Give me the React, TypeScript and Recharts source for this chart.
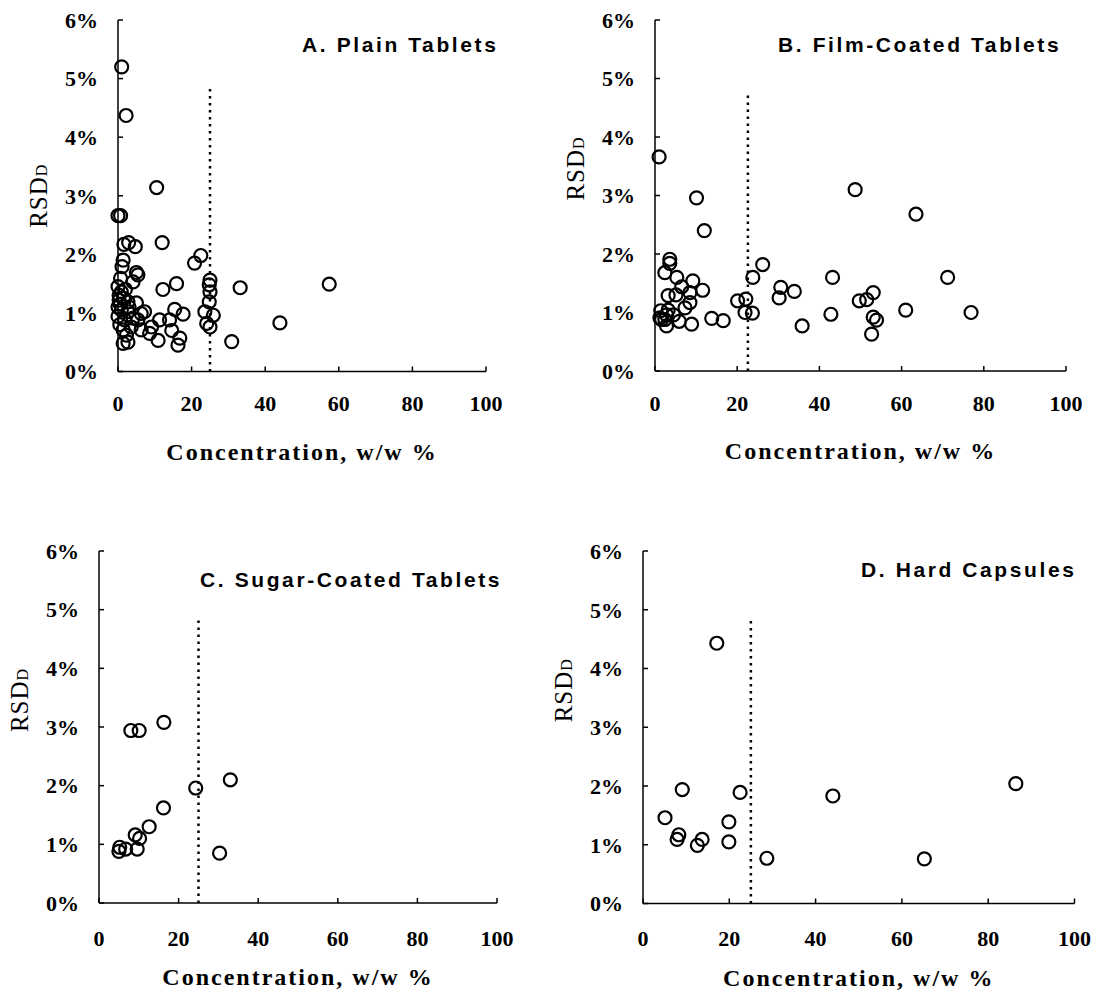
import {
  ReferenceLine,
  Scatter,
  ScatterChart,
  XAxis,
  YAxis,
} from 'recharts';

// A. Plain Tablets
const plainConc = [
  1.0, 2.2, 10.5, 0.0, 0.7, 12.0, 1.6, 2.9, 4.7, 22.5, 20.8, 1.4, 1.1, 5.0, 5.4,
  4.1, 0.7, 0.0, 0.9, 15.9, 12.2, 33.2, 57.4, 25.0, 24.8, 25.0, 24.8, 23.6, 25.9,
  24.1, 25.0, 44.0, 30.9, 2.7, 5.0, 0.9, 2.7, 0.0, 1.8, 4.1, 6.3, 7.2, 5.4, 3.6,
  1.4, 6.3, 9.1, 11.3, 14.0, 15.4, 17.7, 14.6, 8.6, 2.3, 1.4, 2.7, 10.9, 16.8,
  16.3, 0.3, 0.6, 0.3, 0.0, 1.5, 3.0, 0.5, 2.0,
];
const plainRsd = [
  5.2, 4.37, 3.14, 2.66, 2.66, 2.2, 2.17, 2.2, 2.13, 1.98, 1.85, 1.9, 1.79, 1.69,
  1.65, 1.53, 1.59, 1.45, 1.36, 1.5, 1.4, 1.43, 1.49, 1.56, 1.48, 1.36, 1.19,
  1.02, 0.96, 0.82, 0.76, 0.83, 0.51, 1.19, 1.17, 1.05, 1.02, 0.94, 0.88, 0.91,
  0.99, 1.02, 0.88, 0.76, 0.71, 0.71, 0.76, 0.88, 0.88, 1.06, 0.98, 0.7, 0.65,
  0.62, 0.48, 0.5, 0.53, 0.57, 0.45, 1.22, 1.15, 1.3, 1.1, 1.25, 1.1, 0.8, 1.4,
];

// B. Film-Coated Tablets
const filmConc = [
  1.0, 10.1, 12.0, 48.7, 63.5, 3.6, 3.6, 26.2, 23.8, 43.2, 71.2, 2.4, 5.3, 9.2,
  6.5, 11.6, 8.5, 3.2, 5.1, 8.5, 7.3, 30.6, 30.2, 33.9, 20.1, 22.1, 21.9, 23.7,
  53.1, 49.7, 51.5, 53.1, 53.9, 52.7, 42.8, 35.8, 61.0, 76.9, 13.8, 16.6, 8.9,
  5.9, 2.8, 1.6, 1.4, 3.2, 2.8, 4.5, 1.2, 2.4,
];
const filmRsd = [
  3.66, 2.96, 2.4, 3.1, 2.68, 1.91, 1.84, 1.82, 1.6, 1.6, 1.6, 1.68, 1.6, 1.54,
  1.44, 1.38, 1.34, 1.29, 1.3, 1.17, 1.08, 1.43, 1.25, 1.36, 1.2, 1.23, 1.0,
  0.99, 1.34, 1.2, 1.22, 0.92, 0.87, 0.63, 0.97, 0.77, 1.04, 1.0, 0.9, 0.86, 0.8,
  0.85, 0.77, 0.88, 1.03, 1.04, 0.96, 0.96, 0.91, 0.88,
];

// C. Sugar-Coated Tablets
const sugarConc = [8.0, 10.1, 16.3, 33.0, 24.3, 16.2, 12.6, 9.1, 10.2, 5.2, 6.7, 9.6, 5.0, 30.3];
const sugarRsd = [2.94, 2.94, 3.08, 2.1, 1.96, 1.62, 1.3, 1.16, 1.1, 0.95, 0.92, 0.92, 0.88, 0.85];

// D. Hard Capsules
const capsConc = [17.1, 9.1, 22.5, 44.0, 86.4, 5.1, 19.9, 8.3, 7.9, 13.7, 12.6, 19.9, 28.7, 65.2];
const capsRsd = [4.43, 1.94, 1.89, 1.83, 2.04, 1.46, 1.39, 1.17, 1.09, 1.09, 0.99, 1.05, 0.77, 0.76];

const xTicks = [0, 20, 40, 60, 80, 100];
const yTicks = [0, 1, 2, 3, 4, 5, 6];

const Y_W = 118;
const M_T = 20;
const M_R = 60;
const X_H = 60;

const serif = '"Liberation Serif", "Times New Roman", serif';
const sans = '"Liberation Sans", Arial, sans-serif';

interface Panel {
  title: string;
  titleX: number;
  titleY: number;
  conc: number[];
  rsd: number[];
  cutoff: number;
  cutoffTop: number;
  plotLeft: number;
  plotTop: number;
  plotRight: number;
  plotBottom: number;
  yLabelDy: number;
  xLabelDy: number;
  xTickGap: number;
  marginBottom: number;
}

const panels: Panel[] = [
  {
    title: 'A. Plain Tablets', titleX: 302, titleY: 52,
    conc: plainConc, rsd: plainRsd, cutoff: 25, cutoffTop: 4.85,
    plotLeft: 118, plotTop: 20, plotRight: 486, plotBottom: 371.5,
    yLabelDy: 0, xLabelDy: 88, xTickGap: 29, marginBottom: 50,
  },
  {
    title: 'B. Film-Coated Tablets', titleX: 778, titleY: 52,
    conc: filmConc, rsd: filmRsd, cutoff: 22.6, cutoffTop: 4.72,
    plotLeft: 655, plotTop: 20, plotRight: 1066, plotBottom: 371,
    yLabelDy: -27, xLabelDy: 88, xTickGap: 29, marginBottom: 50,
  },
  {
    title: 'C. Sugar-Coated Tablets', titleX: 200, titleY: 587,
    conc: sugarConc, rsd: sugarRsd, cutoff: 25, cutoffTop: 4.89,
    plotLeft: 99, plotTop: 551, plotRight: 497, plotBottom: 903,
    yLabelDy: -27, xLabelDy: 82, xTickGap: 32, marginBottom: 30,
  },
  {
    title: 'D. Hard Capsules', titleX: 861, titleY: 577,
    conc: capsConc, rsd: capsRsd, cutoff: 25, cutoffTop: 4.86,
    plotLeft: 642.5, plotTop: 550.5, plotRight: 1074, plotBottom: 903,
    yLabelDy: -37, xLabelDy: 82, xTickGap: 32, marginBottom: 30,
  },
];

const OpenCircle = (props: any) => (
  <circle cx={props.cx} cy={props.cy} r={6.5} fill='none' stroke='#000' strokeWidth={2.2} />
);

function ScatterPanel({ p }: { p: Panel }) {
  const data = p.conc.map((c, i) => ({ x: c, y: p.rsd[i] }));
  const width = p.plotRight - p.plotLeft + Y_W + M_R;
  const height = p.plotBottom - p.plotTop + M_T + X_H + p.marginBottom;

  const yTitle = (props: any) => {
    const vb = props.viewBox;
    const bx = vb.x + vb.width - 71;
    const cy = vb.y + vb.height / 2 + p.yLabelDy;
    return (
      <text
        transform={`translate(${bx},${cy}) rotate(-90)`}
        x={0}
        y={0}
        textAnchor='middle'
        fontFamily={serif}
        fontSize={25}
        letterSpacing={1}
        fill='#000'
      >
        RSD<tspan fontSize={16}>D</tspan>
      </text>
    );
  };

  const xTitle = (props: any) => {
    const vb = props.viewBox;
    return (
      <text
        x={vb.x + vb.width / 2}
        y={vb.y + p.xLabelDy}
        textAnchor='middle'
        fontFamily={serif}
        fontWeight='bold'
        fontSize={24}
        letterSpacing={2}
        fill='#000'
      >
        Concentration, w/w %
      </text>
    );
  };

  return (
    <div style={{ position: 'absolute', left: p.plotLeft - Y_W, top: p.plotTop - M_T }}>
      <ScatterChart
        width={width}
        height={height}
        margin={{ top: M_T, right: M_R, bottom: p.marginBottom, left: 0 }}
      >
        <XAxis
          type='number'
          dataKey='x'
          domain={[0, 100]}
          ticks={xTicks}
          height={X_H}
          axisLine={{ stroke: '#000', strokeWidth: 1.5 }}
          tickLine={{ stroke: '#000', strokeWidth: 1.5 }}
          tickSize={-5}
          tickMargin={p.xTickGap}
          tick={{ fill: '#000', fontFamily: serif, fontWeight: 'bold', fontSize: 22 }}
          label={{ content: xTitle }}
        />
        <YAxis
          type='number'
          dataKey='y'
          domain={[0, 6]}
          ticks={yTicks}
          width={Y_W}
          axisLine={{ stroke: '#000', strokeWidth: 1.5 }}
          tickLine={{ stroke: '#000', strokeWidth: 1.5 }}
          tickSize={-5}
          tickMargin={25}
          tickFormatter={(v: number) => `${v}%`}
          tick={{ fill: '#000', fontFamily: serif, fontWeight: 'bold', fontSize: 22 }}
          label={{ content: yTitle }}
        />
        <ReferenceLine
          segment={[
            { x: p.cutoff, y: 0 },
            { x: p.cutoff, y: p.cutoffTop },
          ]}
          stroke='#000'
          strokeWidth={2.5}
          strokeDasharray='2.5 4.5'
        />
        <Scatter data={data} shape={OpenCircle} isAnimationActive={false} />
      </ScatterChart>
    </div>
  );
}

export default function App() {
  return (
    <div
      style={{
        position: 'absolute',
        left: 0,
        top: 0,
        width: 1103,
        height: 993,
        overflow: 'hidden',
        background: '#fff',
      }}
    >
      {panels.map((p) => (
        <ScatterPanel key={p.title} p={p} />
      ))}
      <svg
        width={1103}
        height={993}
        style={{ position: 'absolute', left: 0, top: 0, pointerEvents: 'none' }}
      >
        {panels.map((p) => (
          <text
            key={p.title}
            x={p.titleX}
            y={p.titleY}
            fontFamily={sans}
            fontWeight='bold'
            fontSize={21}
            letterSpacing={2.6}
            fill='#000'
          >
            {p.title}
          </text>
        ))}
      </svg>
    </div>
  );
}
